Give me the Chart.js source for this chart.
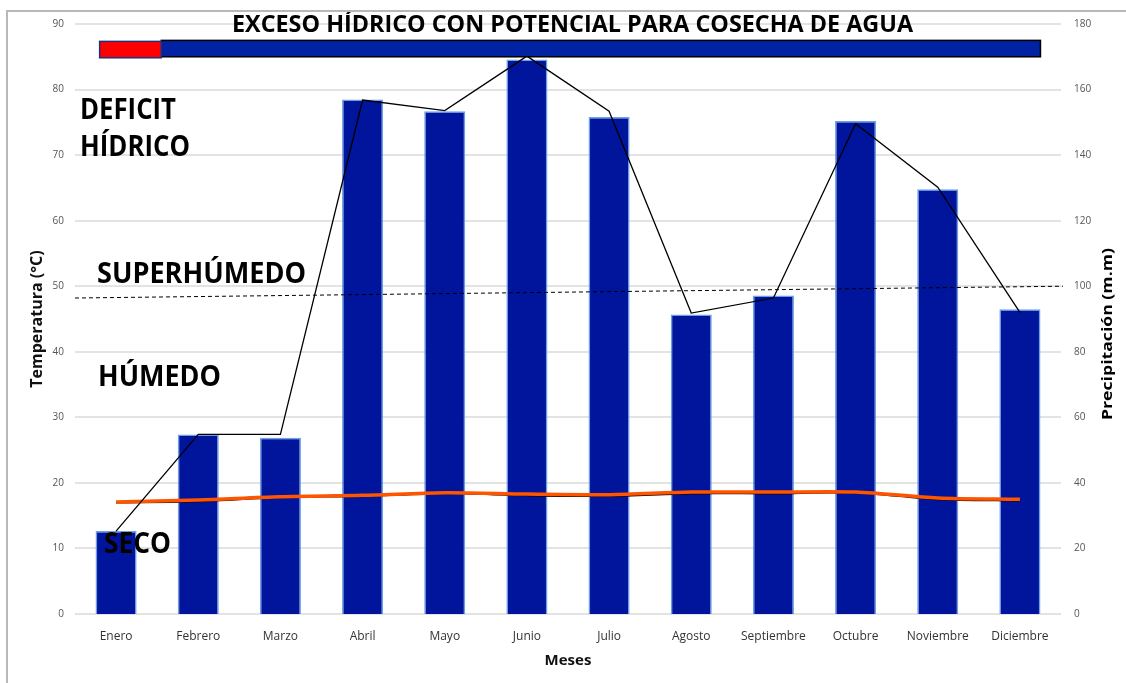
<!DOCTYPE html>
<html lang="es">
<head>
<meta charset="utf-8">
<title>Exceso hídrico</title>
<script src="https://cdn.jsdelivr.net/npm/chart.js@4.4.1/dist/chart.umd.min.js"></script>
<style>
  html, body { margin: 0; padding: 0; background: #fff; }
  #wrap { position: relative; width: 1126px; height: 683px; overflow: hidden; }
  #frame {
    position: absolute; left: 6px; top: 10px; right: -4px; bottom: -4px;
    border-left: 2px solid #b8b8b8; border-top: 2px solid #b8b8b8;
    pointer-events: none;
  }
  canvas { position: absolute; left: 0; top: 0; }
</style>
</head>
<body>
<div id="wrap">
  <canvas id="balance" width="1126" height="683"></canvas>
  <div id="frame"></div>
</div>
<script>
/* ── Datos ── */
const meses = ['Enero', 'Febrero', 'Marzo', 'Abril', 'Mayo', 'Junio',
               'Julio', 'Agosto', 'Septiembre', 'Octubre', 'Noviembre', 'Diciembre'];

// precipitación mensual (m.m), eje derecho
const precipitacion = [25.3, 54.8, 53.8, 157.0, 153.4, 169.2, 151.6, 91.4, 97.2, 150.4, 129.6, 93.0];
// línea negra que sigue a la precipitación
const precipLinea = [25.3, 54.8, 54.8, 156.8, 153.6, 170.2, 153.4, 91.8, 96.4, 149.6, 130.2, 92.0];

// temperatura (°C), eje izquierdo
const temperatura = [17.1, 17.4, 17.9, 18.1, 18.5, 18.3, 18.2, 18.6, 18.6, 18.6, 17.7, 17.5];
const temperatura2 = [17.0, 17.2, 17.8, 18.0, 18.4, 18.1, 18.0, 18.4, 18.4, 18.5, 17.5, 17.3];

// escalas
const ticksTemp = [0, 10, 20, 30, 40, 50, 60, 70, 80, 90];
const ticksPrecip = [0, 20, 40, 60, 80, 100, 120, 140, 160, 180];

// umbral superhúmedo (°C, inicio y fin de la línea punteada)
const umbral = [48.2, 50.0];
// franjas superiores: rango en índices de mes y en °C
const bandaDeficit = [-0.2, 0.55];
const bandaExceso = [0.55, 11.25];
const bandaY = [85.0, 87.5];

/* ── Texto ajustado a un ancho ── */
function fitText(ctx, text, x, y, w, size, rot) {
  ctx.save();
  ctx.font = 'bold ' + size + 'px "Open Sans"';
  const m = ctx.measureText(text).width;
  ctx.translate(x, y);
  if (rot) ctx.rotate(rot);
  ctx.scale(w / m, 1);
  ctx.fillStyle = '#000';
  ctx.textAlign = rot ? 'center' : 'left';
  ctx.textBaseline = rot ? 'middle' : 'alphabetic';
  ctx.fillText(text, 0, 0);
  ctx.restore();
}

const anotaciones = {
  id: 'anotaciones',
  afterDatasetsDraw(chart) {
    const { ctx, chartArea, scales } = chart;
    const x = scales.x, y = scales.y;
    const step = x.getPixelForValue(1) - x.getPixelForValue(0);
    const xi = v => x.getPixelForValue(0) + v * step;

    // línea punteada del umbral
    ctx.save();
    ctx.strokeStyle = '#000';
    ctx.lineWidth = 1;
    ctx.setLineDash([4, 3]);
    ctx.beginPath();
    ctx.moveTo(chartArea.left, y.getPixelForValue(umbral[0]));
    ctx.lineTo(chartArea.right + 2, y.getPixelForValue(umbral[1]));
    ctx.stroke();
    ctx.restore();

    // franjas superiores
    const yt = y.getPixelForValue(bandaY[1]);
    const yb = y.getPixelForValue(bandaY[0]);
    ctx.save();
    ctx.lineWidth = 1.5;
    ctx.fillStyle = '#0022a3';
    ctx.strokeStyle = '#000';
    ctx.fillRect(xi(bandaExceso[0]), yt, xi(bandaExceso[1]) - xi(bandaExceso[0]), yb - yt);
    ctx.strokeRect(xi(bandaExceso[0]), yt, xi(bandaExceso[1]) - xi(bandaExceso[0]), yb - yt);
    ctx.fillStyle = '#ff0000';
    ctx.strokeStyle = '#1f2f80';
    ctx.fillRect(xi(bandaDeficit[0]), yt + 1, xi(bandaDeficit[1]) - xi(bandaDeficit[0]), yb - yt);
    ctx.strokeRect(xi(bandaDeficit[0]), yt + 1, xi(bandaDeficit[1]) - xi(bandaDeficit[0]), yb - yt);
    ctx.restore();

    // rótulos
    fitText(ctx, 'EXCESO HÍDRICO CON POTENCIAL PARA COSECHA DE AGUA', 232, 32, 681, 23);
    fitText(ctx, 'DEFICIT', 80, 119, 96, 28);
    fitText(ctx, 'HÍDRICO', 80, 156, 110, 28);
    fitText(ctx, 'SUPERHÚMEDO', 97, 283, 209, 28);
    fitText(ctx, 'HÚMEDO', 98, 386, 123, 28);
    fitText(ctx, 'SECO', 104, 553, 67, 28);

    // título del eje derecho (se lee de abajo hacia arriba)
    fitText(ctx, 'Precipitación (m.m)', 1108, 334, 172, 15, -Math.PI / 2);
  }
};

new Chart(document.getElementById('balance'), {
  type: 'bar',
  data: {
    labels: meses,
    datasets: [
      {
        type: 'line',
        data: precipLinea,
        yAxisID: 'y1',
        borderColor: '#000',
        borderWidth: 1.3,
        pointRadius: 0,
        tension: 0,
        order: 0
      },
      {
        type: 'line',
        data: temperatura,
        yAxisID: 'y',
        borderColor: '#ff5500',
        borderWidth: 3.5,
        pointRadius: 0,
        tension: 0.3,
        order: 1
      },
      {
        type: 'line',
        data: temperatura2,
        yAxisID: 'y',
        borderColor: '#1a0000',
        borderWidth: 2,
        pointRadius: 0,
        tension: 0.3,
        order: 2
      },
      {
        data: precipitacion,
        yAxisID: 'y1',
        backgroundColor: '#00149c',
        borderColor: 'rgba(90,150,230,0.9)',
        borderWidth: 1.5,
        barPercentage: 0.5,
        categoryPercentage: 1,
        order: 3
      }
    ]
  },
  options: {
    responsive: false,
    animation: false,
    layout: { padding: { left: 7, right: 0, top: 24, bottom: 0 } },
    plugins: {
      legend: { display: false },
      tooltip: { enabled: false }
    },
    scales: {
      x: {
        grid: { display: false },
        border: { display: false },
        ticks: { font: { size: 12, family: "'Open Sans'" }, color: '#333', padding: 7 },
        title: {
          display: true, text: 'Meses', color: '#111',
          font: { size: 15, weight: 'bold', family: "'Open Sans'" },
          padding: { top: 0, bottom: 13 }
        },
        afterFit: s => { s.height = 69; }
      },
      y: {
        position: 'left',
        min: 0, max: 90,
        afterBuildTicks: s => { s.ticks = ticksTemp.map(v => ({ value: v })); },
        grid: { color: '#e3e3e3', lineWidth: 2, drawTicks: false },
        border: { display: false },
        ticks: { font: { size: 10, family: "'Open Sans'" }, color: '#555', padding: 11 },
        title: {
          display: true, text: 'Temperatura (°C)', color: '#111',
          font: { size: 16, weight: 'bold', family: "'Open Sans'" },
          padding: { top: 21, bottom: 0 }
        },
        afterFit: s => { s.width = 68; }
      },
      y1: {
        position: 'right',
        min: 0, max: 180,
        afterBuildTicks: s => { s.ticks = ticksPrecip.map(v => ({ value: v })); },
        grid: { display: false, drawTicks: false },
        border: { display: false },
        ticks: { font: { size: 10, family: "'Open Sans'" }, color: '#555', padding: 13 },
        title: { display: false },
        afterFit: s => { s.width = 65; }
      }
    }
  },
  plugins: [anotaciones]
});
</script>
</body>
</html>
